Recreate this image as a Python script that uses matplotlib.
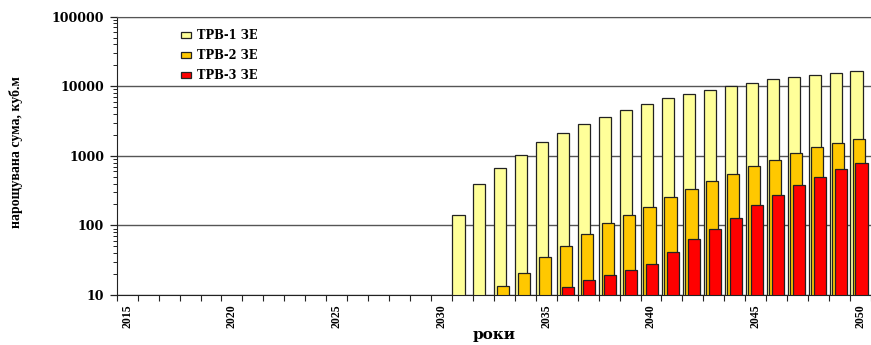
import numpy as np
import matplotlib
matplotlib.use('Agg')
import matplotlib.pyplot as plt
from matplotlib.ticker import FixedLocator, NullFormatter, LogLocator

# роки та наростаючі обсяги для трьох типів відходів
years = list(range(2015, 2051))
trv1 = [0, 0, 0, 0, 0, 0, 0, 0, 0, 0, 0, 0, 0, 0, 0, 0,
        140, 400, 680, 1040, 1560, 2150, 2830, 3650, 4500, 5600,
        6700, 7700, 8900, 10200, 11200, 12600, 13700, 14600, 15500, 16500]
trv2 = [0, 0, 0, 0, 0, 0, 0, 0, 0, 0, 0, 0, 0, 0, 0, 0, 0, 0,
        13.5, 21, 35, 51, 75, 107, 143, 184, 256, 333, 434, 548,
        706, 871, 1086, 1325, 1528, 1762]
trv3 = [0, 0, 0, 0, 0, 0, 0, 0, 0, 0, 0, 0, 0, 0, 0, 0, 0, 0, 0, 0, 0,
        12.9, 16.3, 19.2, 22.9, 27.6, 42, 64, 89, 128, 196, 276, 380,
        501, 640, 788]
labels = ['ТРВ-1 ЗЕ', 'ТРВ-2 ЗЕ', 'ТРВ-3 ЗЕ']
colors = ['#FFFF99', '#FFC800', '#FF0000']

W, H = 871, 345
fig = plt.figure(figsize=(W / 100, H / 100), dpi=100)
ax = fig.add_axes([116.7 / W, 1 - 295 / H, (W - 116.7) / W, (295 - 16.7) / H])

x = np.arange(len(years))
width = 0.58
offsets = [-0.19, -0.07, 0.05]
for vals, col, off, lab in zip([trv1, trv2, trv3], colors, offsets, labels):
    v = np.array(vals, dtype=float)
    v[v <= 0] = np.nan
    ax.bar(x + off, v, width=width, color=col, edgecolor='#222222',
           linewidth=0.9, label=lab, log=True)

ax.set_yscale('log')
ax.set_ylim(10, 100000)
ax.set_xlim(-0.5, len(years) - 0.5)
ax.set_axisbelow(True)
ax.yaxis.grid(True, which='major', color='#555555', linewidth=1.0)

# вісь Y
ax.yaxis.set_major_locator(FixedLocator([10, 100, 1000, 10000, 100000]))
ax.set_yticklabels(['10', '100', '1000', '10000', '100000'],
                   fontfamily='DejaVu Serif', fontweight='bold', fontsize=9)
ax.yaxis.set_minor_locator(LogLocator(base=10, subs=np.arange(2, 10)))
ax.yaxis.set_minor_formatter(NullFormatter())
ax.tick_params(axis='y', which='major', length=5, width=0.9, pad=4, color='#222222')
ax.tick_params(axis='y', which='minor', length=3, width=0.7, color='#222222')

# вісь X: підписи кожні 5 років, риски між категоріями
major = [i for i, y in enumerate(years) if y % 5 == 0]
ax.xaxis.set_major_locator(FixedLocator(major))
ax.set_xticklabels([str(years[i]) for i in major], rotation=90,
                   fontfamily='Liberation Serif', fontweight='bold', fontsize=8.5)
ax.xaxis.set_minor_locator(FixedLocator(np.arange(-0.5, len(years), 1.0)))
ax.tick_params(axis='x', which='major', length=0, pad=7)
ax.tick_params(axis='x', which='minor', length=4, width=0.8, color='#222222')

ax.spines['right'].set_visible(False)
ax.spines['top'].set_color('#555555')
ax.spines['left'].set_color('#222222')
ax.spines['bottom'].set_color('#222222')

ax.set_xlabel('роки', fontfamily='DejaVu Serif', fontweight='bold', fontsize=11,
              labelpad=0)
fig.text(16 / W, 1 - 152 / H, 'нарощувана сума, куб.м', rotation=90,
         ha='center', va='center', fontfamily='Liberation Serif',
         fontweight='bold', fontsize=10)

leg = ax.legend(loc='upper left', bbox_to_anchor=(181 / W, 1 - 29 / H),
                bbox_transform=fig.transFigure, frameon=False,
                prop={'family': 'DejaVu Serif', 'weight': 'bold', 'size': 8.3},
                handlelength=0.9, handleheight=0.45, handletextpad=0.5,
                labelspacing=0.6, borderpad=0, borderaxespad=0)

fig.savefig('out.png', dpi=100)
